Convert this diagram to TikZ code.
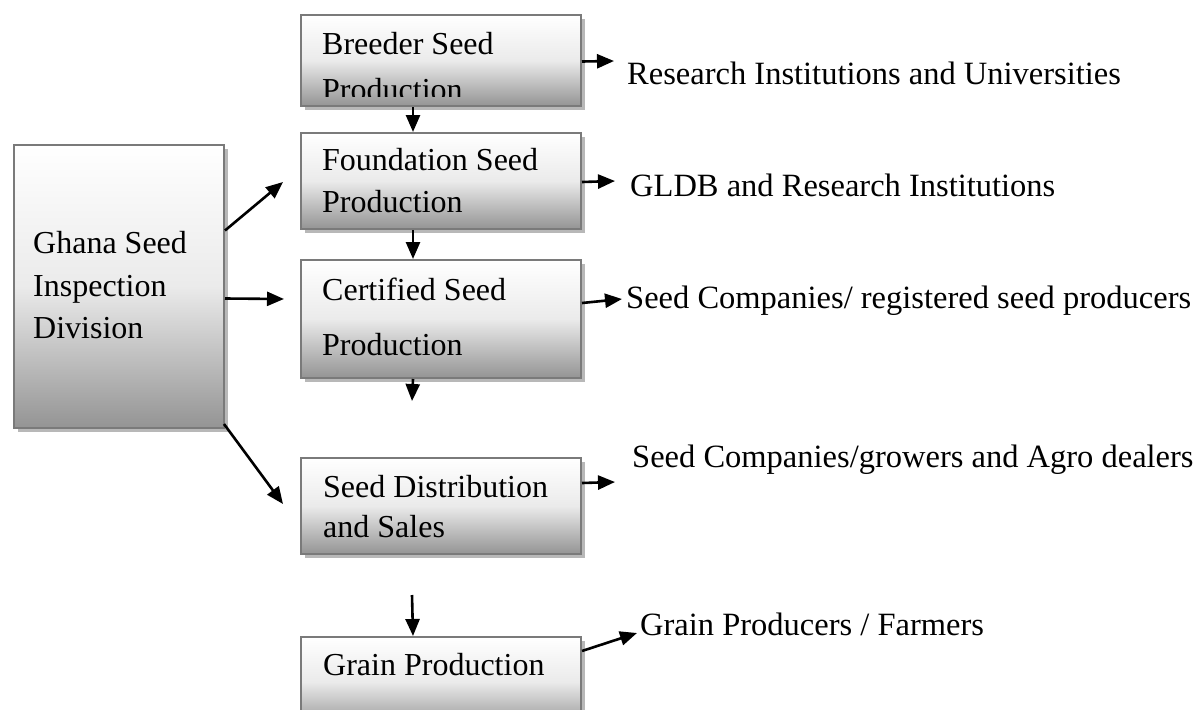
\documentclass[tikz,border=0pt]{standalone}
\usepackage{fontspec}
\setmainfont{Liberation Serif}
\usetikzlibrary{arrows.meta,shadows}
\begin{document}
\begin{tikzpicture}[x=1pt,y=-1pt,
  stage/.style={rectangle, anchor=north west, draw=black!52, line width=2pt,
    top color=white, bottom color=black!42, middle color=black!8,
    drop shadow={shadow xshift=4pt, shadow yshift=-4pt, fill=black!28, opacity=1},
    inner sep=0pt},
  txt/.style={anchor=base west, inner sep=0pt, font=\fontsize{32}{38}\selectfont},
  lab/.style={anchor=base west, inner sep=0pt, font=\fontsize{32.5}{38}\selectfont},
  arr/.style={-{Triangle[length=17pt,width=14pt]}, line width=2.6pt}]
\useasboundingbox (0,0) rectangle (1198,709);
\clip (0,0) rectangle (1198,709);

% stage boxes
\node[stage, minimum width=210pt, minimum height=283pt] (ghana) at (13,144) {};
\node[stage, minimum width=280pt, minimum height=91pt]  (breeder) at (300,14) {};
\node[stage, minimum width=280pt, minimum height=96pt]  (found) at (300,132) {};
\node[stage, minimum width=280pt, minimum height=118pt] (cert) at (300,259) {};
\node[stage, minimum width=280pt, minimum height=96pt]  (dist) at (300,457) {};
\node[stage, minimum width=280pt, minimum height=90pt]  (grain) at (300,636) {};

% box texts
\node[txt] (g1) at (33,253) {Ghana Seed};
\node[txt] (g2) at (33,296) {Inspection};
\node[txt] (g3) at (33,338) {Division};
\begin{scope}
  \clip (300,14) rectangle (580,96);
  \node[txt] (b1) at (322,55) {Breeder Seed};
  \node[txt] (b2) at (322,100) {Production};
\end{scope}
\node[txt] (f1) at (322,170) {Foundation Seed};
\node[txt] (f2) at (322,212) {Production};
\node[txt] (c1) at (322,300) {Certified Seed};
\node[txt] (c2) at (322,355) {Production};
\node[txt] (d1) at (323,497) {Seed Distribution};
\node[txt] (d2) at (323,537) {and Sales};
\node[txt] (gp) at (323,675) {Grain Production};

% outlet labels
\node[lab] (l1) at (627,84)  {Research Institutions and Universities};
\node[lab] (l2) at (630,196) {GLDB and Research Institutions};
\node[lab] (l3) at (626,308) {Seed Companies/ registered seed producers};
\node[lab] (l4) at (632,467) {Seed Companies/growers and Agro dealers};
\node[lab] (l5) at (640,635) {Grain Producers / Farmers};

% free arrow ends
\coordinate (t1) at (614,61);
\coordinate (t2) at (615,181);
\coordinate (t3) at (622,299);
\coordinate (t4) at (615,482);
\coordinate (t5) at (637,633);
\coordinate (cdown) at (412,401);
\coordinate (gtop) at (412,595);

% flow down the chain
\draw[arr] ([xshift=-28pt]breeder.south) -- ([xshift=-28pt]found.north);
\draw[arr] ([xshift=-28pt]found.south) -- ([xshift=-28pt]cert.north);
\draw[arr] ([xshift=-28pt]cert.south) -- (cdown);
\draw[arr] (gtop) -- ([xshift=-28pt]grain.north);

% inspection arrows
\draw[arr] ([yshift=56pt]ghana.east) -- ([xshift=-17pt,yshift=-1pt]found.west);
\draw[arr] ([yshift=-12pt]ghana.east) -- ([xshift=-16pt,yshift=20pt]cert.west);
\draw[arr] ([xshift=-1pt,yshift=5pt]ghana.south east) -- ([xshift=-17pt,yshift=2pt]dist.west);

% outlets
\draw[arr] ([yshift=-1pt]breeder.east) -- (t1);
\draw[arr] ([yshift=-1pt]found.east) -- (t2);
\draw[arr] ([yshift=16pt]cert.east) -- (t3);
\draw[arr] ([yshift=23pt]dist.east) -- (t4);
\draw[arr] ([yshift=31pt]grain.east) -- (t5);
\end{tikzpicture}
\end{document}
